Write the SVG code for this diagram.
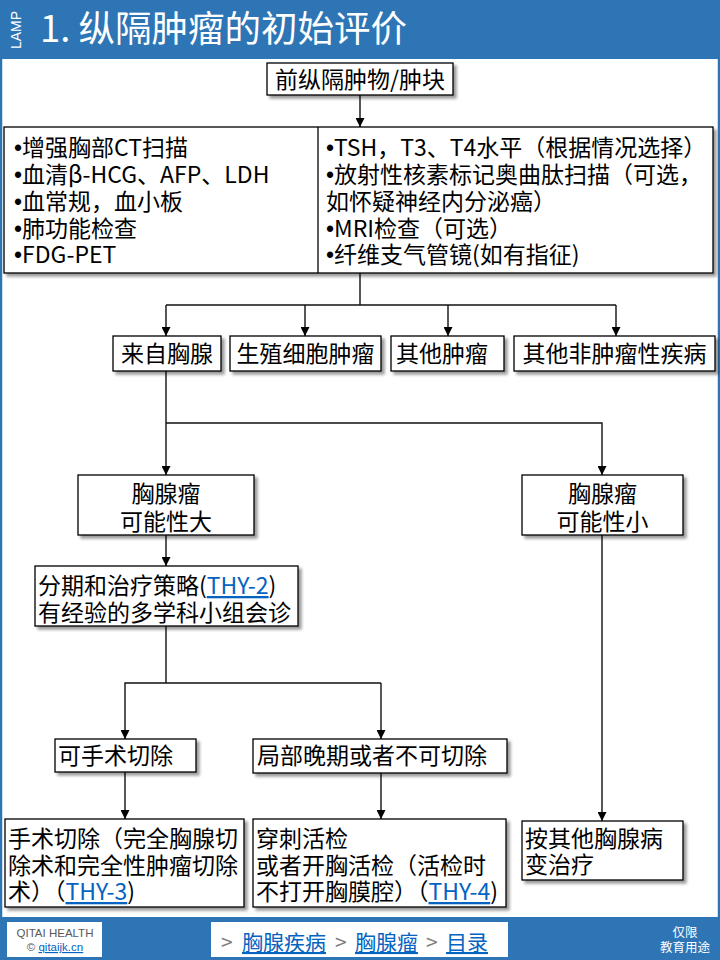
<svg xmlns="http://www.w3.org/2000/svg" width="720" height="960" viewBox="0 0 720 960">
<defs>
<filter id="sh" x="-10%" y="-10%" width="130%" height="140%">
<feDropShadow dx="3" dy="3" stdDeviation="1.8" flood-color="#000" flood-opacity="0.4"/>
</filter>
<marker id="ar" viewBox="0 0 10 10" refX="10" refY="5" markerWidth="9" markerHeight="9" markerUnits="userSpaceOnUse" orient="auto">
<path d="M0,0 L10,5 L0,10 z" fill="#000"/>
</marker>
<style>
.bx{fill:#fff;stroke:#000;stroke-width:1.3}
.t{font-family:"Noto Sans CJK SC","Microsoft YaHei",sans-serif;font-size:23px;fill:#000}
.c{text-anchor:middle}
.lk{fill:#0563C1;text-decoration:underline}
.b{font-family:"Liberation Sans",Arial,sans-serif}
.cn{fill:none;stroke:#111;stroke-width:1.4}
.ft{font-family:"Liberation Sans",Arial,sans-serif}
</style>
</defs>
<rect x="0" y="0" width="720" height="960" fill="#fff"/>
<rect x="1" y="0" width="718" height="960" fill="none" stroke="#2E75B6" stroke-width="2.5"/>
<g id="header">
<rect x="0" y="0" width="720" height="59" fill="#2E75B6"/>
<text x="21" y="30" transform="rotate(-90 21 30)" text-anchor="middle" font-family="Liberation Sans,Arial,sans-serif" font-size="14" fill="#fff">LAMP</text>
<text x="40" y="42" font-family="Noto Sans CJK SC,Microsoft YaHei,sans-serif" font-size="36.5" fill="#fff">1. 纵隔肿瘤的初始评价</text>
</g>
<g id="connectors" class="cn">
<line x1="360" y1="95" x2="360" y2="127" marker-end="url(#ar)"/>
<line x1="360" y1="273" x2="360" y2="305"/>
<line x1="166" y1="305" x2="616" y2="305"/>
<line x1="166" y1="305" x2="166" y2="336" marker-end="url(#ar)"/>
<line x1="305" y1="305" x2="305" y2="336" marker-end="url(#ar)"/>
<line x1="448" y1="305" x2="448" y2="336" marker-end="url(#ar)"/>
<line x1="616" y1="305" x2="616" y2="336" marker-end="url(#ar)"/>
<line x1="166" y1="371" x2="166" y2="475" marker-end="url(#ar)"/>
<polyline points="166,423 602,423 602,475" marker-end="url(#ar)"/>
<line x1="166" y1="535" x2="166" y2="566" marker-end="url(#ar)"/>
<line x1="166" y1="626" x2="166" y2="683"/>
<polyline points="381,683 125,683 125,739" marker-end="url(#ar)"/>
<line x1="381" y1="683" x2="381" y2="739" marker-end="url(#ar)"/>
<line x1="125" y1="772" x2="125" y2="819" marker-end="url(#ar)"/>
<line x1="381" y1="773" x2="381" y2="819" marker-end="url(#ar)"/>
<line x1="602" y1="535" x2="602" y2="821" marker-end="url(#ar)"/>
</g>
<g id="n-start">
<rect class="bx" x="267" y="63" width="186" height="32" filter="url(#sh)"/>
<text class="t c" x="360" y="88">前纵隔肿物/肿块</text>
</g>
<g id="n-tests">
<rect class="bx" x="4" y="127" width="709" height="146" filter="url(#sh)"/>
<line x1="318" y1="127" x2="318" y2="273" stroke="#000" stroke-width="1.3"/>
<text class="t" x="14" y="156"><tspan class="b">•</tspan>增强胸部CT扫描</text>
<text class="t" x="14" y="183"><tspan class="b">•</tspan>血清β-HCG、AFP、LDH</text>
<text class="t" x="14" y="210"><tspan class="b">•</tspan>血常规，血小板</text>
<text class="t" x="14" y="237"><tspan class="b">•</tspan>肺功能检查</text>
<text class="t" x="14" y="263"><tspan class="b">•</tspan>FDG-PET</text>
<text class="t" x="326" y="156"><tspan class="b">•</tspan>TSH，T3、T4水平（根据情况选择）</text>
<text class="t" x="326" y="183"><tspan class="b">•</tspan>放射性核素标记奥曲肽扫描（可选，</text>
<text class="t" x="326" y="210">如怀疑神经内分泌癌）</text>
<text class="t" x="326" y="237"><tspan class="b">•</tspan>MRI检查（可选）</text>
<text class="t" x="326" y="263"><tspan class="b">•</tspan>纤维支气管镜(如有指征)</text>
</g>
<g id="n-thymus">
<rect class="bx" x="113" y="336" width="108" height="35" filter="url(#sh)"/>
<text class="t c" x="167" y="362">来自胸腺</text>
</g>
<g id="n-germ">
<rect class="bx" x="230" y="336" width="151" height="35" filter="url(#sh)"/>
<text class="t c" x="305.5" y="362">生殖细胞肿瘤</text>
</g>
<g id="n-other">
<rect class="bx" x="391" y="336" width="113" height="35" filter="url(#sh)"/>
<text class="t" x="396" y="362">其他肿瘤</text>
</g>
<g id="n-nontumor">
<rect class="bx" x="514" y="336" width="201" height="35" filter="url(#sh)"/>
<text class="t c" x="614.5" y="362">其他非肿瘤性疾病</text>
</g>
<g id="n-likely">
<rect class="bx" x="78" y="475" width="176" height="60" filter="url(#sh)"/>
<text class="t c" x="166" y="502">胸腺瘤</text>
<text class="t c" x="166" y="530">可能性大</text>
</g>
<g id="n-unlikely">
<rect class="bx" x="522" y="475" width="161" height="60" filter="url(#sh)"/>
<text class="t c" x="602.5" y="502">胸腺瘤</text>
<text class="t c" x="602.5" y="530">可能性小</text>
</g>
<g id="n-staging">
<rect class="bx" x="35" y="566" width="263" height="60" filter="url(#sh)"/>
<text class="t" x="38" y="594">分期和治疗策略(<tspan class="lk">THY-2</tspan>)</text>
<text class="t" x="38" y="621">有经验的多学科小组会诊</text>
</g>
<g id="n-resectable">
<rect class="bx" x="55" y="739" width="141" height="33" filter="url(#sh)"/>
<text class="t" x="58" y="764">可手术切除</text>
</g>
<g id="n-advanced">
<rect class="bx" x="253" y="739" width="254" height="34" filter="url(#sh)"/>
<text class="t" x="257" y="764">局部晚期或者不可切除</text>
</g>
<g id="n-surgery">
<rect class="bx" x="5" y="819" width="239" height="88" filter="url(#sh)"/>
<text class="t" x="8" y="847">手术切除（完全胸腺切</text>
<text class="t" x="8" y="874">除术和完全性肿瘤切除</text>
<text class="t" x="8" y="900">术）（<tspan class="lk">THY-3</tspan>)</text>
</g>
<g id="n-biopsy">
<rect class="bx" x="253" y="819" width="253" height="88" filter="url(#sh)"/>
<text class="t" x="256" y="847">穿刺活检</text>
<text class="t" x="256" y="874">或者开胸活检（活检时</text>
<text class="t" x="256" y="900">不打开胸膜腔）（<tspan class="lk">THY-4</tspan>)</text>
</g>
<g id="n-othertx">
<rect class="bx" x="522" y="821" width="161" height="59" filter="url(#sh)"/>
<text class="t" x="525" y="847">按其他胸腺病</text>
<text class="t" x="525" y="873">变治疗</text>
</g>
<g id="footer">
<rect x="0" y="917" width="720" height="43" fill="#2E75B6"/>
<rect x="7" y="922" width="95" height="35" fill="#fff"/>
<text class="ft" x="55" y="937" text-anchor="middle" font-size="11.5" fill="#595959">QITAI HEALTH</text>
<text class="ft" x="55" y="951" text-anchor="middle" font-size="11.5" fill="#595959">© <tspan class="lk">qitaijk.cn</tspan></text>
<rect x="211" y="922" width="297" height="35" fill="#fff"/>
<text font-family="Noto Sans CJK SC,Microsoft YaHei,sans-serif" font-size="21" y="950" fill="#7f7f7f"><tspan x="221">&gt;</tspan><tspan x="242" class="lk">胸腺疾病</tspan><tspan x="335">&gt;</tspan><tspan x="355" class="lk">胸腺瘤</tspan><tspan x="426">&gt;</tspan><tspan x="446" class="lk">目录</tspan></text>
<text font-family="Noto Sans CJK SC,Microsoft YaHei,sans-serif" font-size="12.5" fill="#fff" text-anchor="middle" x="685" y="937">仅限</text>
<text font-family="Noto Sans CJK SC,Microsoft YaHei,sans-serif" font-size="12.5" fill="#fff" text-anchor="middle" x="685" y="952">教育用途</text>
</g>
</svg>
